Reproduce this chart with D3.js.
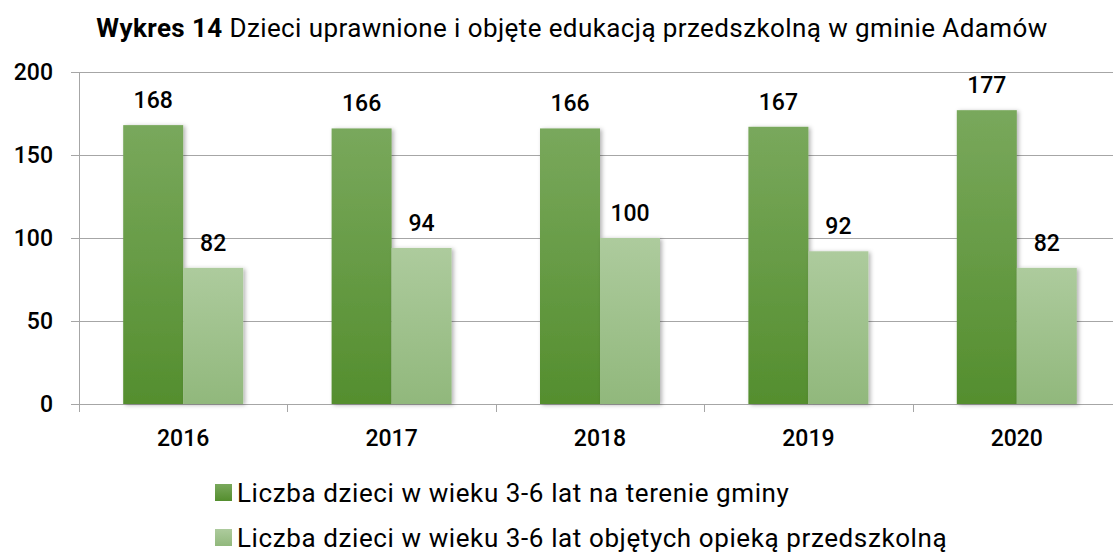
<!DOCTYPE html>
<html>
<head>
<meta charset="utf-8">
<script src="https://cdn.jsdelivr.net/npm/d3@7"></script>
<style>
  body { margin: 0; background: #fff; }
  svg text { font-family: Roboto, "Noto Sans", sans-serif; fill: #000; }
</style>
</head>
<body>
<svg width="1113" height="557"></svg>
<script>
// chart data
var years = ["2016", "2017", "2018", "2019", "2020"];
var seriesNames = ["Liczba dzieci w wieku 3-6 lat na terenie gminy",
                   "Liczba dzieci w wieku 3-6 lat objętych opieką przedszkolną"];
var allChildren = [168, 166, 166, 167, 177];
var inPreschool = [82, 94, 100, 92, 82];
var yTicks = [0, 50, 100, 150, 200];

var svg = d3.select("svg");
var mLeft = 79, mRight = 1121, mTop = 72, mBottom = 404;

var x = d3.scaleBand().domain(years).range([mLeft, mRight]);
var sub = d3.scaleBand().domain([0, 1]).range([0, 120]);
var y = d3.scaleLinear().domain([0, 200]).range([mBottom, mTop]);

// gradients + shadow
var defs = svg.append("defs");
var grads = [["#79a85c", "#548e2e"], ["#adcb9d", "#91b87c"]];
grads.forEach(function(c, i) {
  var g = defs.append("linearGradient").attr("id", "g" + i)
    .attr("x1", 0).attr("y1", 0).attr("x2", 0).attr("y2", 1);
  g.append("stop").attr("offset", "0%").attr("stop-color", c[0]);
  g.append("stop").attr("offset", "100%").attr("stop-color", c[1]);
});
var f = defs.append("filter").attr("id", "sh").attr("x", "-20%").attr("width", "150%");
f.append("feDropShadow").attr("dx", 2).attr("dy", 1).attr("stdDeviation", 2)
  .attr("flood-color", "#000").attr("flood-opacity", 0.3);

// title
var title = svg.append("text").attr("x", 572).attr("y", 37)
  .attr("text-anchor", "middle").style("font-size", "26px").style("letter-spacing", "0.4px");
title.append("tspan").style("font-weight", "bold").text("Wykres 14");
title.append("tspan").text(" Dzieci uprawnione i objęte edukacją przedszkolną w gminie Adamów");

// grid lines
svg.append("g").selectAll("line").data(yTicks).enter().append("line")
  .attr("x1", mLeft - 8).attr("x2", 1113)
  .attr("y1", function(d) { return y(d) + 0.5; })
  .attr("y2", function(d) { return y(d) + 0.5; })
  .attr("stroke", "#a6a6a6").attr("stroke-width", 1);

// y axis
svg.append("line").attr("x1", mLeft + 0.5).attr("x2", mLeft + 0.5)
  .attr("y1", mTop).attr("y2", mBottom + 8).attr("stroke", "#a6a6a6");
svg.append("g").selectAll("text").data(yTicks).enter().append("text")
  .attr("x", 53).attr("y", function(d) { return y(d) + 8; })
  .attr("text-anchor", "end").style("font-size", "23px").style("font-weight", "500")
  .text(function(d) { return d; });

// x ticks at band edges
var edges = years.map(function(d) { return x(d); });
svg.append("g").selectAll("line").data(edges).enter().append("line")
  .attr("x1", function(d) { return Math.round(d) + 0.5; })
  .attr("x2", function(d) { return Math.round(d) + 0.5; })
  .attr("y1", mBottom).attr("y2", mBottom + 8).attr("stroke", "#a6a6a6");
svg.append("g").selectAll("text").data(years).enter().append("text")
  .attr("x", function(d) { return x(d) + x.bandwidth() / 2; })
  .attr("y", 446).attr("text-anchor", "middle")
  .style("font-size", "23px").style("font-weight", "500")
  .text(function(d) { return d; });

// bars
var series = [allChildren, inPreschool];
series.forEach(function(vals, s) {
  var g = svg.append("g");
  var off = x.bandwidth() / 2 - 60;
  g.selectAll("rect").data(vals).enter().append("rect")
    .attr("x", function(d, i) { return x(years[i]) + off + sub(s); })
    .attr("y", function(d) { return y(d); })
    .attr("width", sub.bandwidth())
    .attr("height", function(d) { return mBottom - y(d); })
    .attr("fill", "url(#g" + s + ")")
    .attr("filter", "url(#sh)");
  g.selectAll("text").data(vals).enter().append("text")
    .attr("x", function(d, i) { return x(years[i]) + off + sub(s) + sub.bandwidth() / 2; })
    .attr("y", function(d) { return y(d) - 17; })
    .attr("text-anchor", "middle").style("font-size", "23px").style("font-weight", "500")
    .text(function(d) { return d; });
});

// legend
var leg = svg.append("g").selectAll("g").data(seriesNames).enter().append("g")
  .attr("transform", function(d, i) { return "translate(215," + (484 + i * 45) + ")"; });
leg.append("rect").attr("width", 17).attr("height", 17)
  .attr("fill", function(d, i) { return "url(#g" + i + ")"; });
leg.append("text").attr("x", 22).attr("y", 18)
  .style("font-size", "26px").style("letter-spacing", "0.6px")
  .text(function(d) { return d; });
</script>
</body>
</html>
